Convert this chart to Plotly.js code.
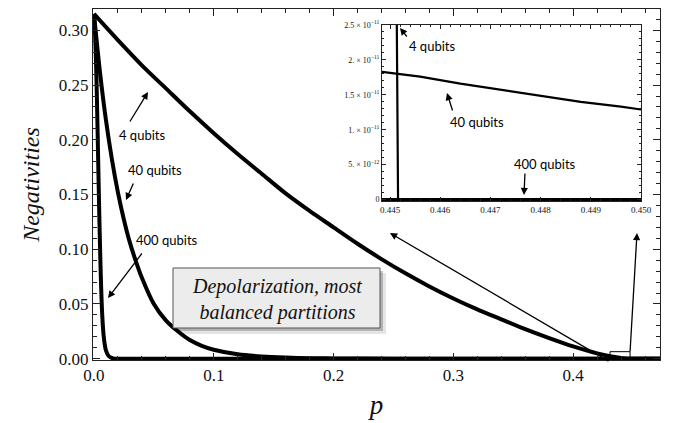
<!DOCTYPE html>
<html>
<head>
<meta charset="utf-8">
<script src="https://cdn.plot.ly/plotly-3.0.1.min.js"></script>
<style>html,body{margin:0;padding:0;background:#fff;}#chart{width:680px;height:423px;}</style>
</head>
<body>
<div id="chart"></div>
<script>
// ---- data ----
const p4 = [0, 0.02, 0.04, 0.06, 0.08, 0.10, 0.12, 0.14, 0.16, 0.18, 0.20, 0.22, 0.24, 0.26, 0.28, 0.30, 0.32, 0.34, 0.36, 0.38, 0.40, 0.42, 0.44, 0.4452, 0.4725];
const neg4 = [0.315, 0.291, 0.268, 0.247, 0.226, 0.206, 0.187, 0.169, 0.151, 0.135, 0.120, 0.105, 0.091, 0.078, 0.066, 0.055, 0.045, 0.036, 0.027, 0.0188, 0.0112, 0.0049, 0.0006, 0, 0];

const p40 = [0, 0.005, 0.01, 0.015, 0.02, 0.025, 0.03, 0.035, 0.04, 0.05, 0.06, 0.07, 0.08, 0.09, 0.10, 0.12, 0.14, 0.16, 0.18, 0.20, 0.25, 0.30, 0.4725];
const neg40 = [0.315, 0.262, 0.218, 0.182, 0.152, 0.127, 0.106, 0.089, 0.074, 0.050, 0.035, 0.025, 0.017, 0.0118, 0.0082, 0.0040, 0.0020, 0.0010, 0.0005, 0.0002, 0.00002, 0, 0];

const p400 = [0, 0.001, 0.002, 0.003, 0.004, 0.005, 0.006, 0.007, 0.008, 0.009, 0.010, 0.012, 0.014, 0.016, 0.02, 0.4725];
const neg400 = [0.315, 0.295, 0.26, 0.21, 0.155, 0.105, 0.065, 0.038, 0.022, 0.013, 0.0075, 0.0028, 0.001, 0.0003, 0, 0];

// inset (zoom near p = 0.445 .. 0.450)
const pIn4 = [0.44513, 0.44516, 0.450];
const negIn4 = [3e-11, 0, 0];
const pIn40 = [0.44484, 0.4452, 0.4456, 0.4464, 0.4472, 0.448, 0.4488, 0.4496, 0.450];
const negIn40 = [1.83e-11, 1.80e-11, 1.76e-11, 1.66e-11, 1.57e-11, 1.49e-11, 1.40e-11, 1.33e-11, 1.29e-11];
const pIn400 = [0.44484, 0.450];
const negIn400 = [0, 0];

// tick labels
const xTickVals = [0, 0.1, 0.2, 0.3, 0.4];
const xTickText = ['0.0', '0.1', '0.2', '0.3', '0.4'];
const yTickVals = [0, 0.05, 0.10, 0.15, 0.20, 0.25, 0.30];
const yTickText = ['0.00', '0.05', '0.10', '0.15', '0.20', '0.25', '0.30'];
const inXTickVals = [0.445, 0.446, 0.447, 0.448, 0.449, 0.450];
const inXTickText = ['0.445', '0.446', '0.447', '0.448', '0.449', '0.450'];
const inYTickVals = [0, 5e-12, 1e-11, 1.5e-11, 2e-11, 2.5e-11];
const inYTickText = ['0', '5. × 10<sup>−12</sup>', '1. × 10<sup>−11</sup>', '1.5 × 10<sup>−11</sup>', '2. × 10<sup>−11</sup>', '2.5 × 10<sup>−11</sup>'];

const seriesLabels = ['4 qubits', '40 qubits', '400 qubits'];
const boxText = 'Depolarization, most<br>balanced partitions';

// ---- layout helpers (pixel -> paper) ----
const L = 93, R = 660, T = 9, B = 360;
const px = x => (x - L) / (R - L);
const py = y => (B - y) / (B - T);

const lineMain = {color: '#000', width: 4, shape: 'spline', smoothing: 0.8};
const lineIn = {color: '#000', width: 2.2};

const traces = [
  {x: p4, y: neg4, mode: 'lines', line: lineMain, name: seriesLabels[0], hoverinfo: 'skip'},
  {x: p40, y: neg40, mode: 'lines', line: lineMain, name: seriesLabels[1], hoverinfo: 'skip'},
  {x: p400, y: neg400, mode: 'lines', line: lineMain, name: seriesLabels[2], hoverinfo: 'skip'},
  {x: pIn400, y: negIn400, mode: 'lines', line: {color: '#000', width: 3}, xaxis: 'x2', yaxis: 'y2', hoverinfo: 'skip'},
  {x: pIn4, y: negIn4, mode: 'lines', line: lineIn, xaxis: 'x2', yaxis: 'y2', hoverinfo: 'skip'},
  {x: pIn40, y: negIn40, mode: 'lines', line: lineIn, xaxis: 'x2', yaxis: 'y2', hoverinfo: 'skip'}
];

const axisCommon = {
  ticks: 'inside', tickcolor: '#222', tickwidth: 1,
  showline: true, linecolor: '#222', linewidth: 1, mirror: 'allticks',
  showgrid: false, zeroline: false, fixedrange: true
};

function arrow(tx, ty, hx, hy) {
  return {xref: 'paper', yref: 'paper', x: px(hx), y: py(hy), ax: tx - hx, ay: ty - hy,
    text: '', showarrow: true, arrowhead: 2, arrowsize: 1.1, arrowwidth: 1.3,
    arrowcolor: '#000', standoff: 0, startstandoff: 0};
}
function label(t, cx, cy) {
  return {xref: 'paper', yref: 'paper', x: px(cx), y: py(cy), xanchor: 'center', yanchor: 'middle',
    text: t, showarrow: false, font: {family: 'Lato', size: 13, color: '#000'}};
}

const layout = {
  width: 680, height: 423,
  margin: {l: L, r: 680 - R, t: T, b: 423 - B},
  paper_bgcolor: '#fff', plot_bgcolor: '#fff',
  showlegend: false,
  font: {family: 'Liberation Serif', color: '#111'},
  xaxis: Object.assign({}, axisCommon, {
    range: [-0.0008, 0.4725], tickmode: 'array', tickvals: xTickVals, ticktext: xTickText,
    ticklen: 7, tickfont: {family: 'Liberation Serif', size: 17, color: '#111'},
    minor: {tick0: 0, dtick: 0.02, ticks: 'inside', ticklen: 4, tickcolor: '#222', showgrid: false},
    title: {text: '<i>p</i>', font: {family: 'Liberation Serif', size: 27, color: '#111'}, standoff: 10}
  }),
  yaxis: Object.assign({}, axisCommon, {
    range: [-0.0012, 0.3195], tickmode: 'array', tickvals: yTickVals, ticktext: yTickText,
    ticklen: 7, tickfont: {family: 'Liberation Serif', size: 17, color: '#111'},
    minor: {tick0: 0, dtick: 0.01, ticks: 'inside', ticklen: 4, tickcolor: '#222', showgrid: false},
    title: {text: '<i>Negativities</i>', font: {family: 'Liberation Serif', size: 24, color: '#111'}, standoff: 12}
  }),
  xaxis2: Object.assign({}, axisCommon, {
    domain: [px(382), px(641)], anchor: 'y2',
    range: [0.44484, 0.450], tickmode: 'array', tickvals: inXTickVals, ticktext: inXTickText,
    ticklen: 4, tickfont: {family: 'Liberation Serif', size: 9, color: '#111'},
    minor: {tick0: 0.445, dtick: 0.0002, ticks: 'inside', ticklen: 2, tickcolor: '#222', showgrid: false}
  }),
  yaxis2: Object.assign({}, axisCommon, {
    domain: [py(201), py(25)], anchor: 'x2',
    range: [-2e-13, 2.5e-11], tickmode: 'array', tickvals: inYTickVals, ticktext: inYTickText,
    ticklen: 4, tickfont: {family: 'Liberation Serif', size: 8, color: '#111'},
    minor: {tick0: 0, dtick: 1e-12, ticks: 'inside', ticklen: 2, tickcolor: '#222', showgrid: false}
  }),
  shapes: [
    // shadow of text box
    {type: 'rect', xref: 'paper', yref: 'paper', x0: px(178), x1: px(386), y0: py(334), y1: py(273),
      fillcolor: 'rgba(0,0,0,0.10)', line: {width: 0}},
    {type: 'rect', xref: 'paper', yref: 'paper', x0: px(176), x1: px(383), y0: py(331), y1: py(271),
      fillcolor: 'rgba(0,0,0,0.22)', line: {width: 0}},
    {type: 'rect', xref: 'paper', yref: 'paper', x0: px(173), x1: px(380), y0: py(328), y1: py(268),
      fillcolor: '#ececec', line: {color: '#555', width: 1}},
    // zoom-region marker
    {type: 'rect', xref: 'x', yref: 'y', x0: 0.4308, x1: 0.4475, y0: -0.0036, y1: 0.0064,
      fillcolor: 'rgba(0,0,0,0)', line: {color: '#000', width: 1}}
  ],
  annotations: [
    label(seriesLabels[0], 142, 135), arrow(129, 123, 148, 92),
    label(seriesLabels[1], 155, 170), arrow(134, 182, 126, 200),
    label(seriesLabels[2], 167, 240), arrow(143, 252, 108, 298),
    label(seriesLabels[0], 432, 46), arrow(408, 38, 400, 28),
    label(seriesLabels[1], 477, 122), arrow(453, 112, 447, 93),
    label(seriesLabels[2], 545, 164), arrow(525, 172, 524, 195),
    arrow(610, 362, 390, 233),
    arrow(630, 353, 637, 233),
    {xref: 'paper', yref: 'paper', x: px(276.5), y: py(299), xanchor: 'center', yanchor: 'middle',
      text: '<i>' + boxText + '</i>', showarrow: false, align: 'center',
      font: {family: 'Liberation Serif', size: 20, color: '#111'}}
  ]
};

Plotly.newPlot('chart', traces, layout, {displayModeBar: false, staticPlot: true});
</script>
</body>
</html>
